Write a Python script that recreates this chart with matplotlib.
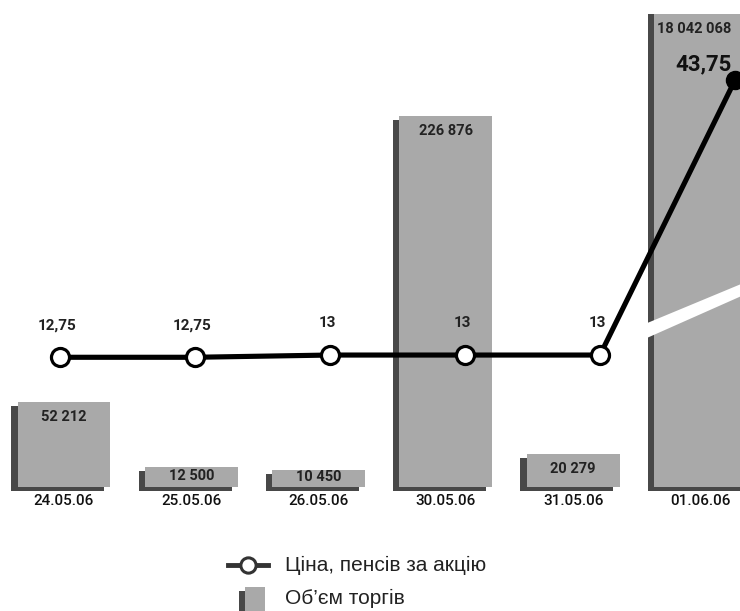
import numpy as np
import matplotlib
matplotlib.use('Agg')
import matplotlib.pyplot as plt
import matplotlib.patheffects as pe
from matplotlib.patches import Polygon, Rectangle
from matplotlib.lines import Line2D

dates = ['24.05.06', '25.05.06', '26.05.06', '30.05.06', '31.05.06', '01.06.06']
volume = [52212, 12500, 10450, 226876, 20279, 18042068]
volume_labels = ['52 212', '12 500', '10 450', '226 876', '20 279', '18 042 068']
price = [12.75, 12.75, 13, 13, 13, 43.75]
price_labels = ['12,75', '12,75', '13', '13', '13', '43,75']
legend_labels = ['Ціна, пенсів за акцію', 'Об’єм торгів']

NUMFONT = ['Roboto', 'DejaVu Sans']

W, H = 740, 611
fig = plt.figure(figsize=(W / 100, H / 100), dpi=100)
fig.patch.set_facecolor('white')

# axes from y=14px to y=492px (baseline at 487px, 5px room for the bar shadow)
rect = [0, (H - 492) / H, 1, 478 / H]
ax = fig.add_axes(rect)
idx = np.arange(len(dates))
ax.set_xlim(-64 / 127.3, (W - 64) / 127.3)
ax.set_ylim(-3058, 289300)

shadow = [pe.SimplePatchShadow(offset=(-4.5, -3), shadow_rgbFace='#484848', alpha=1), pe.Normal()]
bars = ax.bar(idx, volume, width=0.73, color='#a9a9a9', path_effects=shadow, zorder=2)

ymax = ax.get_ylim()[1]
for i, (v, lab) in enumerate(zip(volume, volume_labels)):
    kw = dict(textcoords='offset pixels', ha='center', fontsize=10.5, fontweight='bold',
              color='#222222', family=NUMFONT, zorder=5)
    if v > ymax:
        ax.annotate(lab, (i, ymax), xytext=(-6, -8), va='top', annotation_clip=False, **kw)
    elif v / ymax * 473 < 45:
        ax.annotate(lab, (i, v / 2), xytext=(0, 1), va='center', **kw)
    else:
        ax.annotate(lab, (i, v), xytext=(0, -8), va='top', **kw)

# break mark on the clipped bar
brk = Polygon([[0.865, 0.3473], [1.01, 0.4406], [1.01, 0.4155], [0.865, 0.3159]],
              closed=True, transform=ax.transAxes, facecolor='white', edgecolor='none',
              zorder=3, clip_on=False)
ax.add_patch(brk)

ax.set_xticks(idx, dates)
ax.tick_params(axis='x', length=0, pad=1.5)
for t in ax.get_xticklabels():
    t.set_fontsize(11)
    t.set_family(NUMFONT)
    t.set_fontweight('medium')
    t.set_color('#111111')
ax.set_yticks([])
for s in ax.spines.values():
    s.set_visible(False)

# price axis
ax2 = fig.add_axes(rect, frameon=False)
ax2.set_xlim(-60 / 135.0, (W - 60) / 135.0)
ax2.set_ylim(-2.32, 51.15)
ax2.set_xticks([])
ax2.set_yticks([])
ax2.plot(idx, price, color='black', lw=3.7, zorder=6, solid_capstyle='round')
ax2.plot(idx[:-1], price[:-1], 'o', mfc='white', mec='black', ms=13, mew=2.3, zorder=7)
ax2.plot(idx[-1:], price[-1:], 'o', color='black', ms=13, zorder=7, clip_on=False)
for i, (p, lab) in enumerate(zip(price, price_labels)):
    if i == len(price) - 1:
        ax2.annotate(lab, (i, p), xytext=(-31, 16), textcoords='offset pixels',
                     ha='center', va='center', fontsize=16, fontweight='bold', color='#111111',
                     family=NUMFONT, annotation_clip=False)
    else:
        ax2.annotate(lab, (i, p), xytext=(-3, 25), textcoords='offset pixels',
                     ha='center', va='bottom', fontsize=11, fontweight='bold', color='#222222',
                     family=NUMFONT)

# legend
fx = lambda x: x / W
fy = lambda y: 1 - y / H
fig.add_artist(Line2D([fx(228), fx(268)], [fy(565), fy(565)], color='#333333', lw=3.5))
fig.add_artist(Line2D([fx(248)], [fy(565)], marker='o', mfc='white', mec='#333333', ms=11, mew=2.2))
fig.add_artist(Rectangle((fx(245), fy(611)), fx(20), 24 / H, facecolor='#a9a9a9',
                         edgecolor='none', path_effects=shadow))
fig.text(fx(285), fy(565), legend_labels[0], ha='left', va='center', fontsize=15,
         family='Liberation Sans', color='#222222')
fig.text(fx(285), fy(598), legend_labels[1], ha='left', va='center', fontsize=15,
         family='Liberation Sans', color='#222222')

fig.savefig('out.png', dpi=100, facecolor='white')
